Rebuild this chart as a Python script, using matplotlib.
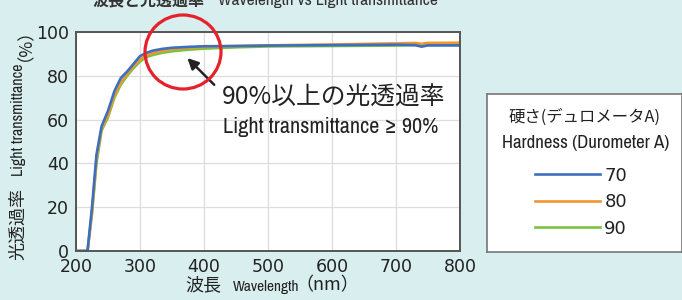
import matplotlib.pyplot as plt
from matplotlib import font_manager
from matplotlib.patches import Ellipse

# datos
longitud_onda = [200, 210, 218, 225, 232, 240, 250, 260, 270, 280, 290, 300, 310, 320,
                 335, 350, 375, 400, 450, 500, 600, 700, 730, 740, 750, 800]
dureza_70 = [0, 0, 0, 20, 44, 57, 64, 73, 79, 82, 85.5, 89, 90.5, 91.5,
             92.3, 92.8, 93.2, 93.5, 93.6, 93.8, 94.0, 94.2, 94.0, 93.3, 93.9, 93.9]
dureza_80 = [0, 0, 0, 18, 42, 56, 62, 71, 77, 81, 84.5, 87.5, 89.5, 90.5,
             91.5, 92.2, 92.8, 93.2, 93.6, 93.9, 94.3, 94.8, 95.0, 94.6, 95.0, 95.1]
dureza_90 = [0, 0, 0, 17, 40, 55, 61, 70, 76, 80, 83.5, 86.5, 88.5, 89.5,
             90.5, 91.2, 91.9, 92.4, 93.0, 93.4, 93.6, 93.8, 94.0, 93.9, 94.0, 94.0]
etiquetas = ['70', '80', '90']
colores = ['#3d6fc0', '#f0962c', '#7cc143']

fondo = '#d9eeee'
cjk = ['Noto Sans CJK JP', 'DejaVu Sans']
nombres = sorted({f.name for f in font_manager.fontManager.ttflist})
condensadas = [n for n in nombres if 'Narrow' in n or 'Condensed' in n]
estrecha = condensadas[0] if condensadas else 'Roboto'

plt.rcParams['font.family'] = ['DejaVu Sans', 'Noto Sans CJK JP']

fig = plt.figure(figsize=(6.82, 3.0), dpi=100, facecolor=fondo)
ax = fig.add_axes([76/682, 49/300, 384/682, 219/300])

ax.plot(longitud_onda, dureza_90, color=colores[2], lw=1.9, label=etiquetas[2])
ax.plot(longitud_onda, dureza_80, color=colores[1], lw=1.9, label=etiquetas[1])
ax.plot(longitud_onda, dureza_70, color=colores[0], lw=1.9, label=etiquetas[0])

ax.set_xlim(200, 800)
ax.set_ylim(0, 100)
ax.set_xticks(range(200, 801, 100))
ax.set_yticks(range(0, 101, 20))
ax.grid(True, color='#dddddd', lw=0.9)
ax.set_axisbelow(True)
ax.tick_params(length=0, labelsize=12.5, colors='#222222', pad=5)
for s in ax.spines.values():
    s.set_color('#555555')
    s.set_linewidth(1.4)

# etiquetas de los ejes (mezcla de tamaños)
fig.text(203/682, 1 - 285/300, '波長', fontsize=13, family=cjk, ha='center', va='center', color='#222222')
fig.text(266/682, 1 - 287/300, 'Wavelength', fontsize=11, family=estrecha, ha='center', va='center', color='#222222')
fig.text(327/682, 1 - 285/300, '（nm）', fontsize=13, family=cjk, ha='center', va='center', color='#222222')

fig.text(18/682, 1 - 224/300, '光透過率', fontsize=13, family=cjk, rotation=90, ha='center', va='center', color='#222222')
fig.text(19/682, 1 - 120/300, 'Light transmittance', fontsize=11.5, family=estrecha, rotation=90, ha='center', va='center', color='#222222')
fig.text(16/682, 1 - 36/300, '（%）', fontsize=12.5, family=cjk, rotation=90, ha='center', va='center', color='#222222')

# título cortado arriba
fig.text(93/682, 1.0, '波長と光透過率', fontsize=11.5, family=cjk, weight='bold', ha='left', va='center', color='#333333')
fig.text(218/682, 1.0, 'Wavelength vs Light transmittance', fontsize=12.5, family=estrecha, weight='bold', ha='left', va='center', color='#333333')

# círculo rojo y flecha
circulo = Ellipse((1.83, 2.48), 0.76, 0.74, transform=fig.dpi_scale_trans,
                  fill=False, edgecolor='#e5222b', lw=2.3, clip_on=False)
fig.add_artist(circulo)
ax.annotate('', xy=(371, 89), xytext=(419, 75),
            arrowprops=dict(arrowstyle='-|>', color='#222222', lw=1.8, mutation_scale=16))
ax.text(428, 70, '90%以上の光透過率', fontsize=17.8, family=cjk, ha='left', va='center', color='#222222')
ax.text(429, 56.5, 'Light transmittance ≥ 90%', fontsize=16, family=estrecha, ha='left', va='center', color='#222222')

# leyenda en caja aparte
ax_leg = fig.add_axes([487/682, 48/300, 195/682, 158/300])
ax_leg.set_xticks([])
ax_leg.set_yticks([])
ax_leg.set_facecolor('white')
for s in ax_leg.spines.values():
    s.set_color('#777777')
    s.set_linewidth(1.2)
ax_leg.text(0.11, 0.855, '硬さ(デュロメータA)', fontsize=11.8, family=cjk, ha='left', va='center',
            transform=ax_leg.transAxes, color='#222222')
ax_leg.text(0.075, 0.69, 'Hardness (Durometer A)', fontsize=13.5, family=estrecha, ha='left', va='center',
            transform=ax_leg.transAxes, color='#222222')
handles, labels = ax.get_legend_handles_labels()
leg = ax_leg.legend(handles[::-1], labels[::-1], loc='upper left', bbox_to_anchor=(0.245, 0.54),
                    frameon=False, fontsize=13, handlelength=3.6, handletextpad=0.25,
                    labelspacing=0.47, borderpad=0, borderaxespad=0)
for t in leg.get_texts():
    t.set_color('#222222')

fig.savefig('out.png', dpi=100, facecolor=fondo)
